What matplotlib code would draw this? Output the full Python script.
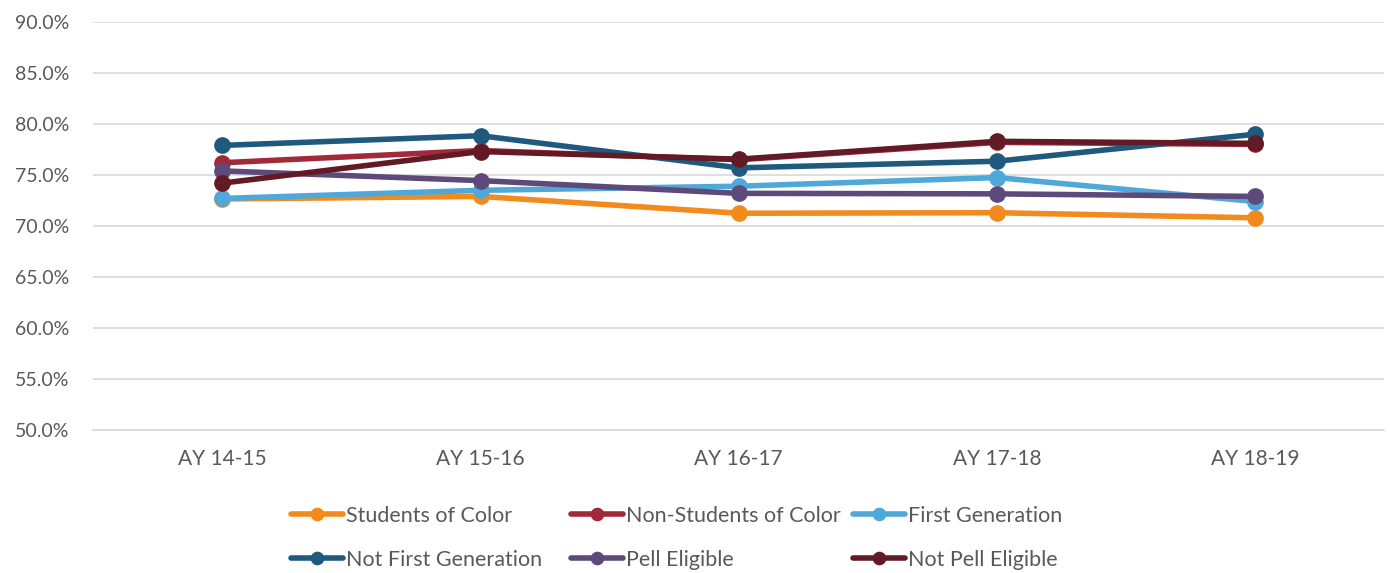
import matplotlib
matplotlib.use("Agg")
import matplotlib.pyplot as plt
from matplotlib.ticker import PercentFormatter

categories = ["AY 14-15", "AY 15-16", "AY 16-17", "AY 17-18", "AY 18-19"]
series_names = ["Students of Color", "Non-Students of Color", "First Generation",
                "Not First Generation", "Pell Eligible", "Not Pell Eligible"]
students_of_color = [72.65, 72.9, 71.25, 71.3, 70.8]
non_students_of_color = [76.2, 77.4, 76.5, 78.2, 78.0]
first_generation = [72.7, 73.5, 73.9, 74.75, 72.4]
not_first_generation = [77.9, 78.85, 75.7, 76.35, 79.0]
pell_eligible = [75.4, 74.45, 73.2, 73.15, 72.9]
not_pell_eligible = [74.2, 77.3, 76.55, 78.3, 78.1]
yticks = [50, 55, 60, 65, 70, 75, 80, 85, 90]

values = [students_of_color, non_students_of_color, first_generation,
          not_first_generation, pell_eligible, not_pell_eligible]
colors = ["#F28A1E", "#A0293A", "#4FA8DA", "#1F5A7E", "#5E4A7A", "#621A24"]

plt.rcParams['font.family'] = ['Lato', 'DejaVu Sans']
fig = plt.figure(figsize=(13.9, 5.73), dpi=100)
ax = fig.add_axes([0.067, 0.2496, 0.929, 0.712])

x = list(range(len(categories)))
handles = []
for name, vals, c in zip(series_names, values, colors):
    h, = ax.plot(x, vals, color=c, lw=4.0, marker='o', ms=11, label=name,
                 solid_capstyle='round')
    handles.append(h)

ax.set_xlim(-0.5, len(categories) - 0.5)
ax.set_ylim(50, 90)
ax.set_yticks(yticks)
ax.yaxis.set_major_formatter(PercentFormatter(decimals=1))
ax.set_xticks(x)
ax.set_xticklabels(categories)
ax.grid(axis='y', color='#D9D9D9', lw=1.2)
ax.set_axisbelow(True)
for s in ['top', 'right', 'left']:
    ax.spines[s].set_visible(False)
ax.spines['bottom'].set_color('#D9D9D9')
ax.spines['bottom'].set_linewidth(1.2)
ax.tick_params(axis='both', length=0, colors='#595959')
ax.tick_params(axis='y', labelsize=14, pad=17)
ax.tick_params(axis='x', labelsize=15, pad=14)

# legend: three columns placed like the original
col_x = [290 / 1390, 570 / 1390, 852 / 1390]
for ci in range(3):
    hs = [handles[ci], handles[ci + 3]]
    leg = fig.legend(hs, [h.get_label() for h in hs], loc='upper left',
                     bbox_to_anchor=(col_x[ci] - 0.007, 1 - 495 / 573),
                     frameon=False, fontsize=15.5, handlelength=2.4,
                     handletextpad=0.15, labelspacing=1.12, borderpad=0,
                     labelcolor='#595959', markerscale=0.8)
    for lh in leg.get_lines():
        lh.set_linewidth(4.0)

fig.savefig("out.png", dpi=100)
